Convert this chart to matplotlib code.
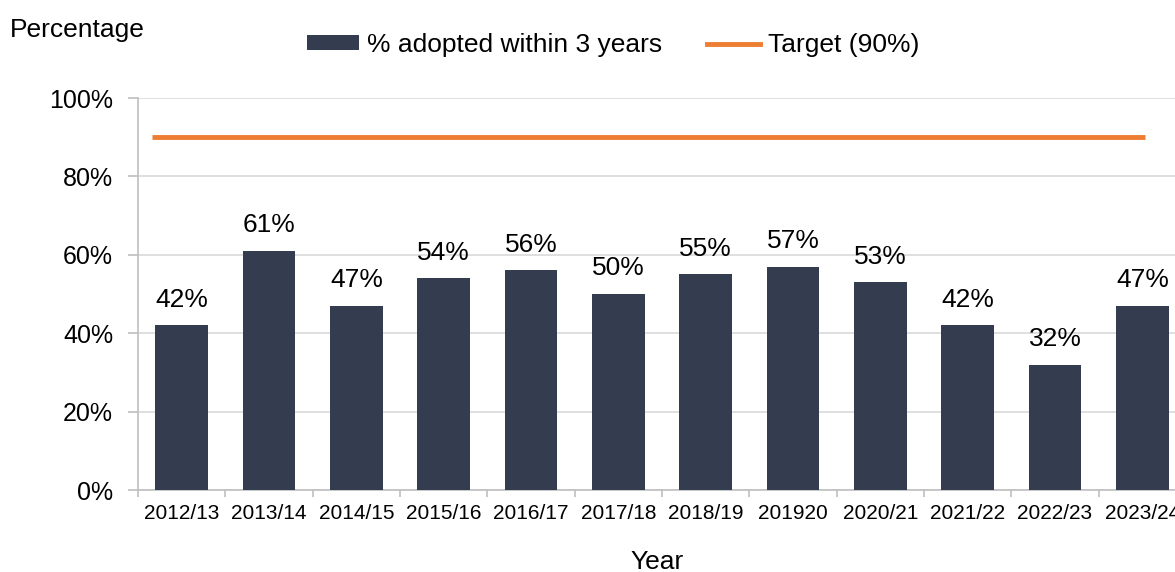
import matplotlib
matplotlib.use("Agg")
import matplotlib.pyplot as plt
from matplotlib.patches import Patch
from matplotlib.lines import Line2D
import numpy as np

plt.rcParams['font.family'] = ['Liberation Sans', 'DejaVu Sans']

years = ["2012/13", "2013/14", "2014/15", "2015/16", "2016/17", "2017/18",
         "2018/19", "201920", "2020/21", "2021/22", "2022/23", "2023/24"]
adopted = [42, 61, 47, 54, 56, 50, 55, 57, 53, 42, 32, 47]
target = [90] * len(years)

bar_color = "#333d4f"
line_color = "#ed7d31"
grid_color = "#d9d9d9"
axis_color = "#bfbfbf"

fig = plt.figure(figsize=(11.75, 5.72), dpi=100)
ax = fig.add_axes([138/1175, 1-490/572, 1048/1175, 392/572])

x = np.arange(len(years))
ax.bar(x, adopted, width=0.6, color=bar_color, zorder=3)
ax.set_xlim(-0.5, len(years) - 0.5)
ax.set_ylim(0, 100)
ax.set_yticks(np.arange(0, 101, 20))
ax.set_yticklabels([f"{v}%" for v in range(0, 101, 20)], fontsize=18)
ax.yaxis.grid(True, color=grid_color, linewidth=1.2, zorder=0)
ax.set_axisbelow(True)

ax.set_xticks(x)
ax.set_xticklabels(years, fontsize=15)
ax.tick_params(axis='x', length=0, pad=10)
ax.set_xticks(np.arange(-0.5, len(years), 1), minor=True)
ax.tick_params(axis='x', which='minor', length=5, color=axis_color, width=1.2)
ax.tick_params(axis='y', length=7, color=axis_color, width=1.2, pad=11)

for s in ['top', 'right']:
    ax.spines[s].set_visible(False)
ax.spines['left'].set_color(axis_color)
ax.spines['bottom'].set_color(axis_color)
ax.spines['left'].set_linewidth(1.2)
ax.spines['bottom'].set_linewidth(1.2)

for xi, v in zip(x, adopted):
    ax.text(xi, v + 3.5, f"{v}%", ha='center', va='bottom', fontsize=19, color='black')

# Target line on a twin axis
ax2 = ax.twiny()
ax2.set_xlim((138 - 152) / 90.27, (1186 - 152) / 90.27)
ax2.plot(x, target, color=line_color, linewidth=3.5, solid_capstyle='butt', zorder=4)
ax2.set_ylim(0, 100)
ax2.axis('off')

fig.text(10/1175, 1-30/572, "Percentage", fontsize=19, va='center', ha='left')
fig.text(657/1175, 1-562/572, "Year", fontsize=19, ha='center', va='center')

handles = [Patch(facecolor=bar_color, edgecolor='none'),
           Line2D([0], [0], color=line_color, linewidth=3.5)]
fig.legend(handles, ["% adopted within 3 years", "Target (90%)"],
           loc='center', bbox_to_anchor=(613/1175, 1-45/572), ncol=2,
           frameon=False, fontsize=19, handlelength=2.0, handletextpad=0.3,
           columnspacing=1.7, handleheight=0.5)

fig.savefig("out.png", dpi=100)
